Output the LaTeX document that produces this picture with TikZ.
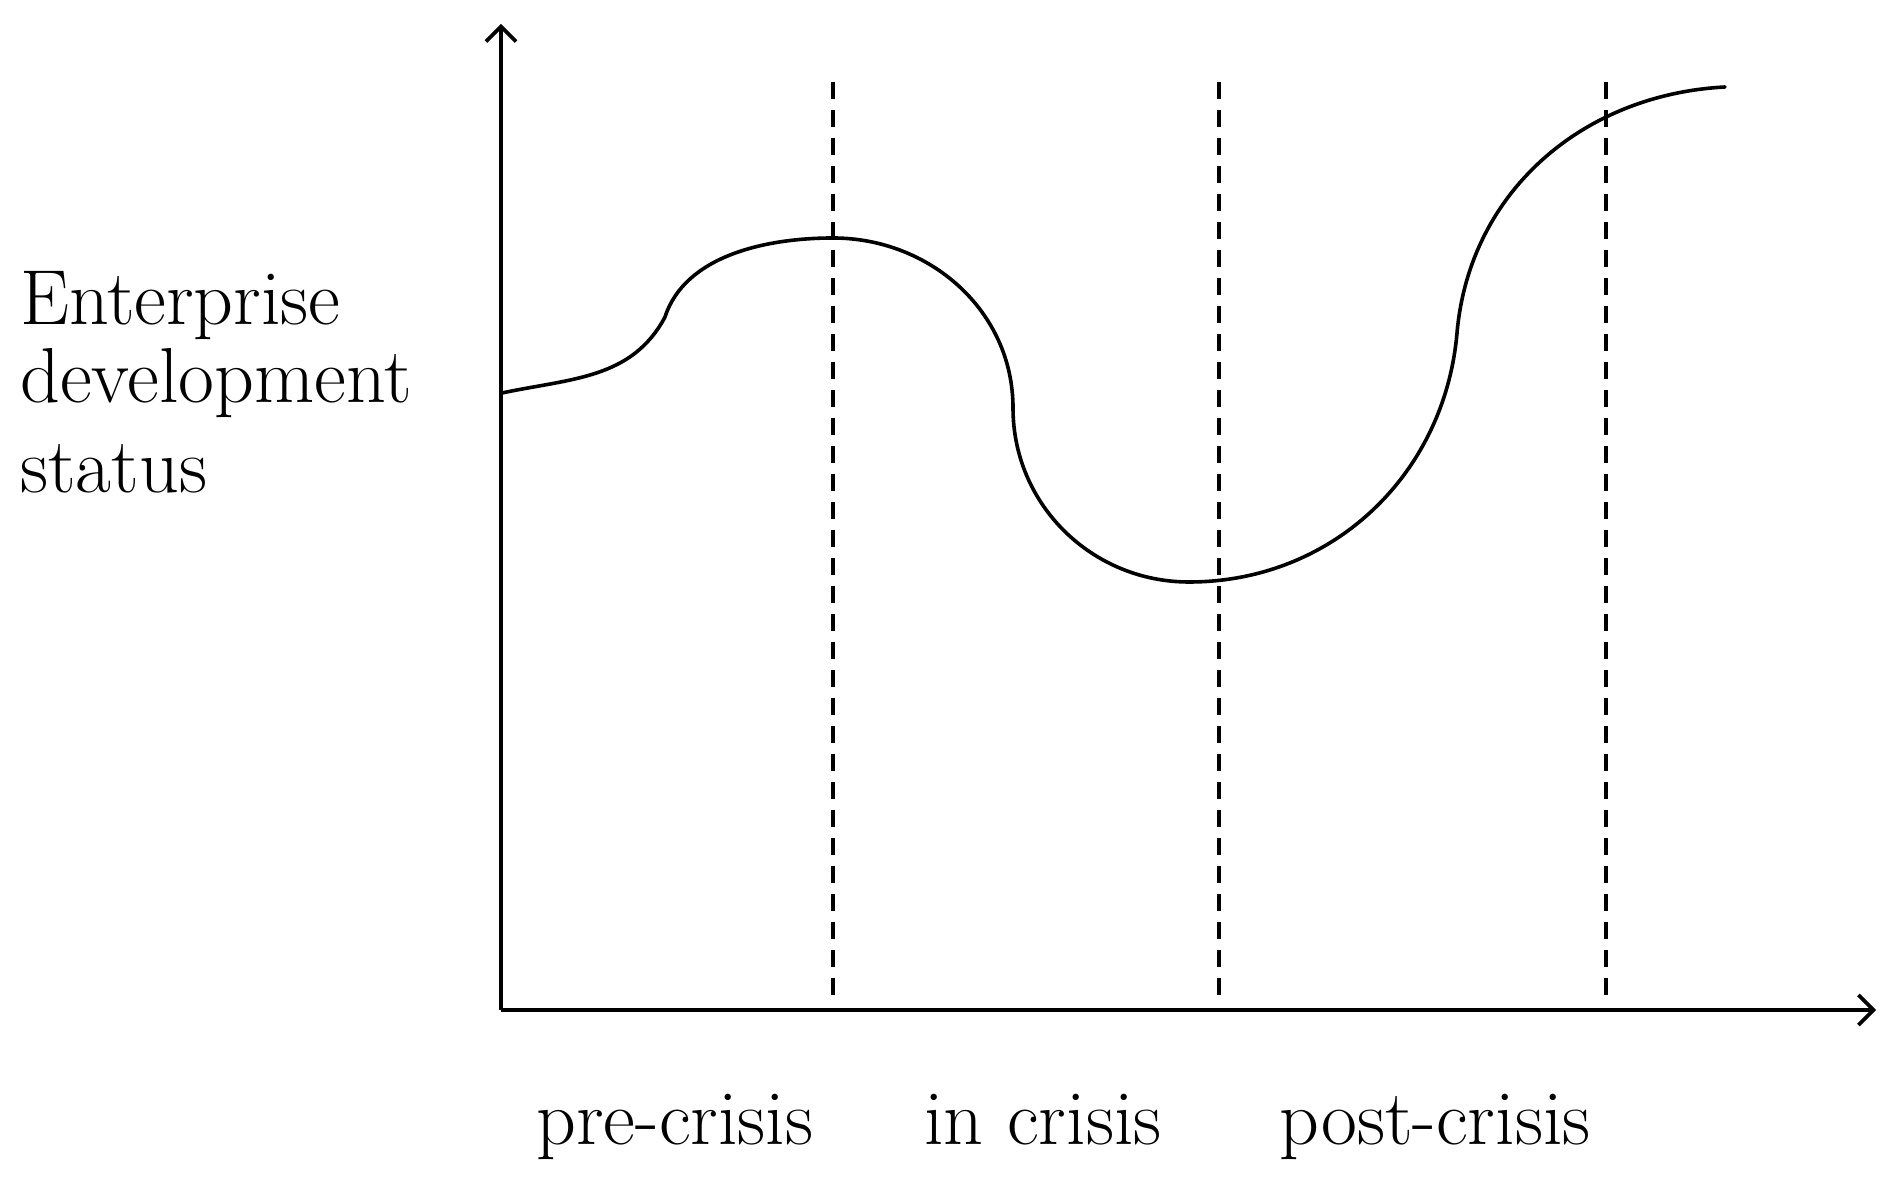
\documentclass[tikz,border=0pt]{standalone}
\usepackage{amsmath,amssymb}
\usepackage{xcolor}
\usetikzlibrary{arrows.meta}

\tikzset{
    axis/.style={line width=3.6pt, -{Straight Barb[length=15pt,width=30pt,line width=3.6pt]}},
    phase/.style={line width=3.6pt, dash pattern=on 17pt off 11pt},
    status/.style={line width=3.6pt, line cap=round},
    lbl/.style={inner sep=0pt, font=\fontsize{78}{84}\selectfont}
}

\begin{document}
\begin{tikzpicture}[x=1pt, y=1pt]
    \useasboundingbox (0,0) rectangle (1893,1183);

    \coordinate (O) at (501,173);
    \coordinate (xend) at (1876,173);
    \coordinate (yend) at (501,1159);
    \draw[axis] (O) -- (xend);
    \draw[axis] (O) -- (yend);

    \foreach \x/\name in {833/a, 1219/b, 1606/c}{
        \coordinate (\name top) at (\x,1101);
        \coordinate (\name bot) at (\x,186);
        \draw[phase] (\name top) -- (\name bot);
    }

    \coordinate (s0) at (502,790);
    \coordinate (s1) at (665,866);
    \coordinate (s2) at (833,945);
    \coordinate (s3) at (1013,775);
    \coordinate (s4) at (1189,601);
    \coordinate (s5) at (1457,850);
    \coordinate (s6) at (1725,1096);
    \draw[status] (s0) to[out=12,in=-118] (s1)
        to[out=72,in=180,looseness=0.9] (s2)
        to[out=0,in=90] (s3)
        to[out=-90,in=180] (s4)
        to[out=0,in=-95] (s5)
        to[out=85,in=183] (s6);

    \node[lbl, anchor=base west] (ylab1) at (20,858) {Enterprise};
    \node[lbl, anchor=base west] (ylab2) at (20,780) {development};
    \node[lbl, anchor=base west] (ylab3) at (20,690) {status};

    \node[lbl, anchor=base] (pre) at (675,38) {pre-crisis};
    \node[lbl, anchor=base] (in) at (1043,38) {in crisis};
    \node[lbl, anchor=base] (post) at (1435,38) {post-crisis};
\end{tikzpicture}
\end{document}
